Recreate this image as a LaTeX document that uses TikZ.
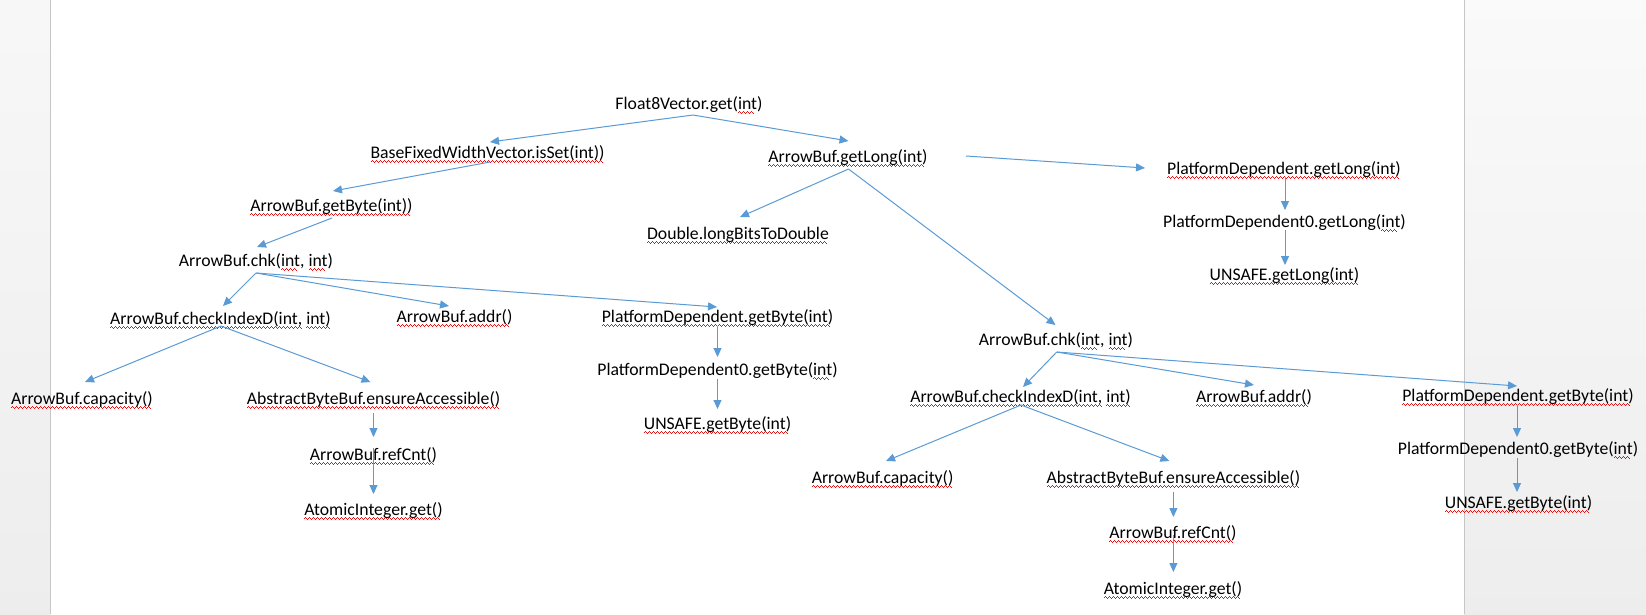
\documentclass[tikz,border=0pt]{standalone}
\usepackage{fontspec}
\setmainfont{Carlito}
\usetikzlibrary{arrows.meta,calc}
\definecolor{arrowblue}{HTML}{5B9BD5}
\definecolor{pageline}{HTML}{C6C6C6}
\definecolor{squig}{HTML}{E81010}
\newsavebox\sqbox
\newcommand\wavepiece{\rule[-3.5pt]{1pt}{0.8pt}\rule[-2.5pt]{1pt}{0.8pt}\rule[-3.5pt]{1pt}{0.8pt}\rule[-4.5pt]{1pt}{0.8pt}}
\newcommand\sq[1]{\sbox\sqbox{#1}\rlap{\color{squig}\hbox to \wd\sqbox{\leaders\hbox{\wavepiece}\hfill}}\usebox\sqbox}
\begin{document}
\begin{tikzpicture}[x=1pt,y=-1pt,
  lbl/.style={anchor=base, inner sep=0pt, font=\fontsize{17.7}{20}\selectfont, text=black},
  conn/.style={draw=arrowblue, line width=1pt, -{Triangle[length=9pt,width=8pt]}}]
\useasboundingbox (0,0) rectangle (1646,614);
% background: page and margins
\fill[white] (0,0) rectangle (1646,614);
\shade[top color=black!3, bottom color=black!7] (0,0) rectangle (50.5,614);
\shade[top color=black!2, bottom color=black!7] (1464,0) rectangle (1646,614);
\draw[pageline, line width=1pt] (50.5,0) -- (50.5,614);
\draw[pageline, line width=1pt] (1464,0) -- (1464,614);
% nodes
\node[lbl] (f8) at (689,109) {Float8Vector.get(\sq{int})};
\node[lbl] (bfw) at (487.6,158) {\sq{BaseFixedWidthVector.isSet(int))}};
\node[lbl] (gl) at (848,162) {\sq{ArrowBuf.getLong(int)}};
\node[lbl] (pdl) at (1284,174) {\sq{PlatformDependent.getLong(int)}};
\node[lbl] (pd0l) at (1284.5,227) {PlatformDependent0.getLong(\sq{int})};
\node[lbl] (unl) at (1284.5,280) {\sq{UNSAFE.getLong(int)}};
\node[lbl] (gb) at (331.5,211) {\sq{ArrowBuf.getByte(int))}};
\node[lbl] (dbl) at (738,239) {\sq{Double.longBitsToDouble}};
\node[lbl] (chk1) at (256,266) {ArrowBuf.chk(\sq{int}, \sq{int})};
\node[lbl] (cid1) at (220.5,324) {\sq{ArrowBuf.checkIndexD(int,} \sq{int)}};
\node[lbl] (addr1) at (454.5,322) {\sq{ArrowBuf.addr()}};
\node[lbl] (pdb1) at (717.5,322) {\sq{PlatformDependent.getByte(int)}};
\node[lbl] (pd0b1) at (717.5,375) {PlatformDependent0.getByte(\sq{int})};
\node[lbl] (unb1) at (717.5,429) {\sq{UNSAFE.getByte(int)}};
\node[lbl] (cap1) at (82,404) {\sq{ArrowBuf.capacity()}};
\node[lbl] (ea1) at (373.5,404) {\sq{AbstractByteBuf.ensureAccessible()}};
\node[lbl] (rc1) at (373.5,460) {\sq{ArrowBuf.refCnt()}};
\node[lbl] (ai1) at (373.5,515) {\sq{AtomicInteger.get()}};
\node[lbl] (chk2) at (1056,345) {ArrowBuf.chk(\sq{int}, \sq{int})};
\node[lbl] (cid2) at (1020.5,402) {\sq{ArrowBuf.checkIndexD(int,} \sq{int)}};
\node[lbl] (addr2) at (1254,402) {\sq{ArrowBuf.addr()}};
\node[lbl] (pdb2) at (1518,401) {\sq{PlatformDependent.getByte(int)}};
\node[lbl] (pd0b2) at (1518,454) {PlatformDependent0.getByte(\sq{int})};
\node[lbl] (unb2) at (1518.5,508) {\sq{UNSAFE.getByte(int)}};
\node[lbl] (cap2) at (882.6,483) {\sq{ArrowBuf.capacity()}};
\node[lbl] (ea2) at (1173.4,483) {\sq{AbstractByteBuf.ensureAccessible()}};
\node[lbl] (rc2) at (1173,538) {\sq{ArrowBuf.refCnt()}};
\node[lbl] (ai2) at (1173,594) {\sq{AtomicInteger.get()}};
% connectors
\draw[conn] ($(f8.base)+(4,6)$) -- ($(bfw.base)+(2.4,-16)$);
\draw[conn] ($(f8.base)+(4,6)$) -- ($(gl.base)+(0.5,-21)$);
\draw[conn] ($(bfw.base)+(2.4,4)$) -- ($(gb.base)+(1.5,-20)$);
\draw[conn] ($(gb.base)+(0.5,7)$) -- ($(chk1.base)+(1,-19)$);
\draw[conn] ($(chk1.base)+(0,7)$) -- ($(cid1.base)+(2.5,-18)$);
\draw[conn] ($(chk1.base)+(0,7)$) -- ($(addr1.base)+(-5.5,-16)$);
\draw[conn] ($(chk1.base)+(0,7)$) -- ($(pdb1.base)+(-0.5,-15)$);
\draw[conn] ($(pdb1.base)+(0,4)$) -- ($(pd0b1.base)+(0,-18)$);
\draw[conn] ($(pd0b1.base)+(0,4)$) -- ($(unb1.base)+(0,-20)$);
\draw[conn] ($(cid1.base)+(0.5,2)$) -- ($(cap1.base)+(3,-22)$);
\draw[conn] ($(cid1.base)+(0.5,2)$) -- ($(ea1.base)+(-3,-22)$);
\draw[conn] ($(ea1.base)+(0,9)$) -- ($(rc1.base)+(0,-23)$);
\draw[conn] ($(rc1.base)+(0,-12)$) -- ($(ai1.base)+(0,-21)$);
\draw[conn] ($(gl.base)+(118,-6)$) -- ($(pdl.base)+(-139,-6)$);
\draw[conn] ($(gl.base)+(0.5,7)$) -- ($(dbl.base)+(2,-22)$);
\draw[conn] ($(gl.base)+(0.5,7)$) -- ($(chk2.base)+(-0.5,-20)$);
\draw[conn] ($(pdl.base)+(1,3)$) -- ($(pd0l.base)+(0.5,-17)$);
\draw[conn] ($(pd0l.base)+(0.5,3)$) -- ($(unl.base)+(0.5,-15)$);
\draw[conn] ($(chk2.base)+(0.7,7)$) -- ($(cid2.base)+(2.5,-15)$);
\draw[conn] ($(chk2.base)+(0.7,7)$) -- ($(addr2.base)+(0,-17)$);
\draw[conn] ($(chk2.base)+(0.7,7)$) -- ($(pdb2.base)+(-1,-15)$);
\draw[conn] ($(cid2.base)+(0.5,3)$) -- ($(cap2.base)+(3.4,-22)$);
\draw[conn] ($(cid2.base)+(0.5,3)$) -- ($(ea2.base)+(-4,-22)$);
\draw[conn] ($(ea2.base)+(0,9)$) -- ($(rc2.base)+(0.4,-21)$);
\draw[conn] ($(rc2.base)+(0.4,-3)$) -- ($(ai2.base)+(0.4,-22)$);
\draw[conn] ($(pdb2.base)+(-1,4)$) -- ($(pd0b2.base)+(-1,-17)$);
\draw[conn] ($(pd0b2.base)+(-1,4)$) -- ($(unb2.base)+(-1.5,-16)$);
\end{tikzpicture}
\end{document}
